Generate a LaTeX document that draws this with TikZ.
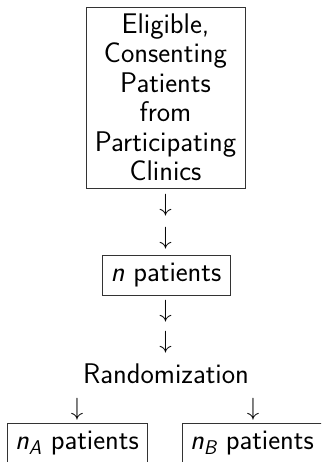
\documentclass[tikz,border=0pt]{standalone}
\usepackage{fontspec}
\usepackage{amsmath}
\usepackage{tikz}
\usetikzlibrary{positioning}
\newcommand{\bigsf}{\fontsize{28.4}{29.5}\selectfont\sffamily}
\newcommand{\sfit}[1]{\textsf{\itshape #1}}

\begin{document}
\begin{tikzpicture}[x=1pt, y=-1pt, every node/.style={font=\bigsf},
  box/.style={draw=black!80, line width=0.8pt, inner sep=0pt, align=center},
  darr/.style={inner sep=0pt}]
  % frame of the page
  \useasboundingbox (0,0) rectangle (321,462);
  \clip (0,0) rectangle (321,462);
  % pool of patients
  \node[box, minimum width=159, minimum height=181] (pool) at (165.5,97.5)
    {Eligible,\\Consenting\\Patients\\from\\Participating\\Clinics};
  \node[darr] (a1) at (165.5,205) {$\downarrow$};
  \node[darr] (a2) at (165.5,238.5) {$\downarrow$};
  % enrolled
  \node[box, minimum width=128, minimum height=40] (total) at (166,275) {$\sfit{n}$ patients};
  \node[darr] (a3) at (165.5,311.5) {$\downarrow$};
  \node[darr] (a4) at (165.5,342.5) {$\downarrow$};
  \node[anchor=base] (rand) at (166,383) {Randomization};
  % two arms
  \node[darr] (a5) at (77,409) {$\downarrow$};
  \node[darr] (a6) at (253,409) {$\downarrow$};
  \node[box, minimum width=140, minimum height=40] (grpA) at (77,443) {$\sfit{n}_{\sfit{A}}$ patients};
  \node[box, minimum width=140, minimum height=40] (grpB) at (252,443) {$\sfit{n}_{\sfit{B}}$ patients};
\end{tikzpicture}
\end{document}
